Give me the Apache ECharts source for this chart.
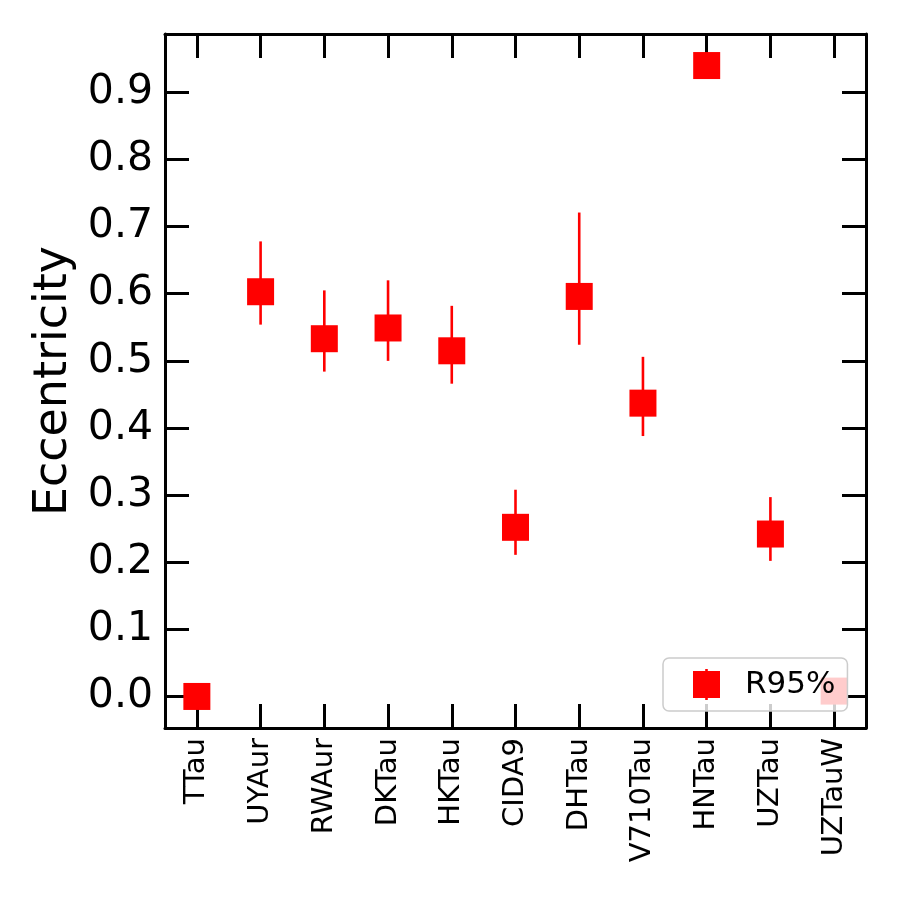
<!DOCTYPE html>
<html>
<head>
<meta charset="utf-8">
<script src="https://cdn.jsdelivr.net/npm/echarts@6/dist/echarts.min.js"></script>
<style>
  html, body { margin: 0; padding: 0; background: #fff; }
  #chart { width: 900px; height: 900px; }
</style>
</head>
<body>
<div id="chart"></div>
<script>
// stars
var stars = ['TTau', 'UYAur', 'RWAur', 'DKTau', 'HKTau', 'CIDA9', 'DHTau', 'V710Tau', 'HNTau', 'UZTau', 'UZTauW'];
// eccentricity (R95%)
var ecc = [0.0, 0.603, 0.533, 0.549, 0.515, 0.252, 0.596, 0.437, 0.940, 0.242, 0.008];
var eccLow = [null, 0.554, 0.484, 0.500, 0.466, 0.211, 0.524, 0.388, null, 0.202, null];
var eccHigh = [null, 0.678, 0.605, 0.620, 0.582, 0.308, 0.721, 0.506, null, 0.297, null];
var yTicks = [0, 0.1, 0.2, 0.3, 0.4, 0.5, 0.6, 0.7, 0.8, 0.9];

var font = 'DejaVu Sans';
var myChart = echarts.init(document.getElementById('chart'));

var errData = [];
for (var i = 0; i < stars.length; i++) {
  if (eccLow[i] !== null) errData.push([i, eccLow[i], eccHigh[i]]);
}
var pts = [];
for (var j = 0; j < stars.length; j++) pts.push([j, ecc[j]]);

var tickStyle = { show: true, inside: true, length: 24, lineStyle: { color: '#000', width: 3 } };
var lineStyle = { show: true, onZero: false, lineStyle: { color: '#000', width: 3 } };

var option = {
  animation: false,
  backgroundColor: '#fff',
  color: ['#ff0000'],
  grid: { left: 165, right: 34, top: 34, bottom: 172 },
  legend: {
    z: 10,
    left: 663, top: 658,
    padding: [11, 12, 11, 30],
    itemWidth: 27, itemHeight: 31,
    itemGap: 10,
    backgroundColor: 'rgba(255,255,255,0.8)',
    borderColor: '#cccccc', borderWidth: 1.5, borderRadius: 6,
    textStyle: { fontFamily: font, fontSize: 31, color: '#000', padding: [0, 0, 0, 20] },
    data: [{ name: 'R95%', icon: 'path://M0,2h27v27h-27z M12.2,0h2.6v31h-2.6z', itemStyle: { color: '#ff0000' } }]
  },
  xAxis: [
    {
      type: 'category', data: stars, position: 'bottom',
      axisLine: lineStyle,
      axisTick: Object.assign({ alignWithLabel: true }, tickStyle),
      axisLabel: { rotate: 90, fontFamily: font, fontSize: 29, color: '#000', margin: 10 },
      splitLine: { show: false }
    },
    {
      type: 'category', data: stars, position: 'top',
      axisLine: lineStyle,
      axisTick: Object.assign({ alignWithLabel: true }, tickStyle),
      axisLabel: { show: false },
      splitLine: { show: false }
    }
  ],
  yAxis: [
    {
      type: 'value', min: -0.047, max: 0.987, position: 'left',
      name: 'Eccentricity', nameLocation: 'middle', nameGap: 86, nameRotate: 90,
      nameTextStyle: { fontFamily: font, fontSize: 46, color: '#000' },
      axisLine: lineStyle,
      axisTick: Object.assign({ customValues: yTicks }, tickStyle),
      axisLabel: {
        customValues: yTicks, fontFamily: font, fontSize: 41, color: '#000', margin: 12,
        formatter: function (v) { return v.toFixed(1); }
      },
      splitLine: { show: false }
    },
    {
      type: 'value', min: -0.047, max: 0.987, position: 'right',
      axisLine: lineStyle,
      axisTick: Object.assign({ customValues: yTicks }, tickStyle),
      axisLabel: { show: false },
      splitLine: { show: false }
    }
  ],
  series: [
    {
      name: 'R95%', type: 'custom', z: 2,
      itemStyle: { color: '#ff0000' },
      data: errData,
      renderItem: function (params, api) {
        var lo = api.coord([api.value(0), api.value(1)]);
        var hi = api.coord([api.value(0), api.value(2)]);
        return {
          type: 'line',
          shape: { x1: lo[0], y1: lo[1], x2: hi[0], y2: hi[1] },
          style: { stroke: '#ff0000', lineWidth: 2.6 }
        };
      }
    },
    {
      name: 'R95%', type: 'scatter', z: 3,
      symbol: 'rect', symbolSize: 27,
      itemStyle: { color: '#ff0000', opacity: 1 },
      data: pts
    }
  ]
};
myChart.setOption(option);
window.onresize = function () { myChart.resize(); };
</script>
</body>
</html>
